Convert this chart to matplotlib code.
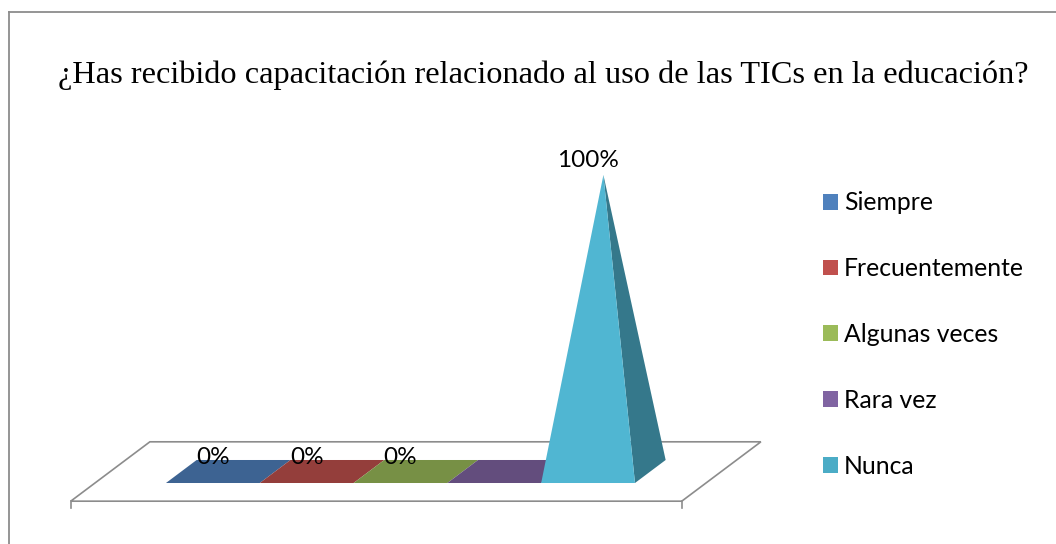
import matplotlib
matplotlib.use("Agg")
import matplotlib.pyplot as plt
from matplotlib.patches import Polygon, Patch
from matplotlib.lines import Line2D
from matplotlib.colors import to_rgb

categorias = ['Siempre', 'Frecuentemente', 'Algunas veces', 'Rara vez', 'Nunca']
valores = [0, 0, 0, 0, 100]
etiquetas = ['0%', '0%', '0%', '', '100%']
colores = ['#4F81BD', '#C0504D', '#9BBB59', '#8064A2', '#4BACC6']
titulo = '¿Has recibido capacitación relacionado al uso de las TICs en la educación?'

# desplazamiento de profundidad (perspectiva oblicua)
DX = 0.327
DY = 7.76
GRIS = '#8c8c8c'


def proy(x, z, v):
    return (x + z * DX, v + z * DY)


def sombra(c, f):
    r, g, b = to_rgb(c)
    return (min(r * f, 1), min(g * f, 1), min(b * f, 1))


fig = plt.figure(figsize=(10.56, 5.44), dpi=100)
ax = fig.add_axes([0, 0, 1, 1])
ax.set_xlim(-1.933, 9.325)
ax.set_ylim(-24.45, 159.0)
ax.axis('off')

# piso
n = len(categorias)
x0, x1 = -0.757, n + 0.757
z0, z1 = -1.29, 1.29
piso = [proy(x0, z0, 0), proy(x1, z0, 0), proy(x1, z1, 0), proy(x0, z1, 0)]
ax.add_patch(Polygon(piso, closed=True, facecolor='white', edgecolor=GRIS, lw=1.2))
for xx in (x0, x1):
    px, py = proy(xx, z0, 0)
    ax.plot([px, px], [py, py - 2.4], color=GRIS, lw=1.2)

# piramides
for i, (v, c) in enumerate(zip(valores, colores)):
    fl = proy(i, -0.5, 0)
    fr = proy(i + 1, -0.5, 0)
    br = proy(i + 1, 0.5, 0)
    bl = proy(i, 0.5, 0)
    cima = proy(i + 0.5, 0, v)
    if v == 0:
        ax.add_patch(Polygon([fl, fr, br, bl], closed=True, facecolor=sombra(c, 0.77), lw=0))
    else:
        ax.add_patch(Polygon([fr, br, cima], closed=True, facecolor=sombra(c, 0.70), lw=0))
        ax.add_patch(Polygon([fl, fr, cima], closed=True, facecolor=sombra(c, 1.06), lw=0))

# etiquetas de datos
for i, (v, t) in enumerate(zip(valores, etiquetas)):
    ax.text(i + 0.5 - 0.5 * DX, v + 2.56, t, ha='center', va='baseline',
            fontsize=17.5, family='Lato', color='black')

# titulo
fig.text(543 / 1056, 1 - 83 / 544, titulo, ha='center', va='baseline',
         fontsize=23.3, family='Liberation Serif')

# leyenda
handles = [Patch(facecolor=c, edgecolor='none') for c in colores]
ax.legend(handles, categorias, loc='upper left', bbox_to_anchor=(822.7 / 1056, 1 - 191.5 / 544),
          bbox_transform=fig.transFigure, frameon=False, borderpad=0, borderaxespad=0,
          handlelength=0.6, handleheight=0.6, handletextpad=0.26, labelspacing=1.73,
          prop={'family': 'Lato', 'size': 17.8})

# borde del grafico
fig.add_artist(Line2D([9.3 / 1056, 9.3 / 1056], [0, 1 - 12.3 / 544], color=GRIS, lw=1.3,
                      transform=fig.transFigure))
fig.add_artist(Line2D([9.3 / 1056, 1], [1 - 12.3 / 544, 1 - 12.3 / 544], color=GRIS, lw=1.3,
                      transform=fig.transFigure))

fig.savefig('out.png', dpi=100)
